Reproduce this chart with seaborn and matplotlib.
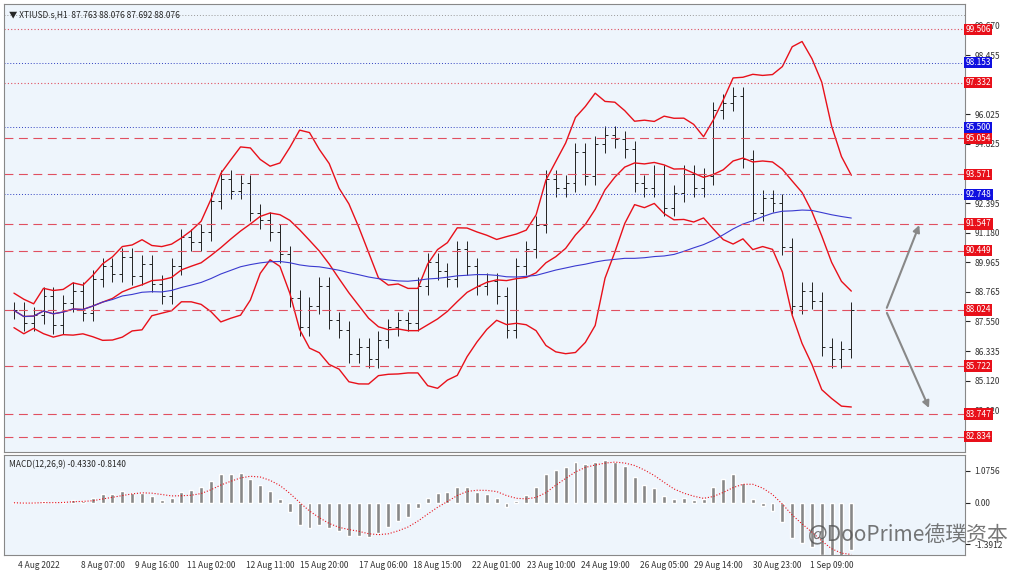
import matplotlib
matplotlib.use("Agg")
import matplotlib.pyplot as plt
import seaborn as sns
import numpy as np
import pandas as pd

sns.set_style("white")
plt.rcParams['font.family'] = ['Noto Sans CJK SC', 'DejaVu Sans']

closes = [88.0,87.5,87.8,88.6,87.4,88.3,88.8,87.9,89.3,89.8,89.5,90.2,89.4,89.9,89.1,88.6,89.8,91.0,90.8,91.2,
          92.5,93.4,92.9,93.2,92.0,91.7,91.2,90.3,88.5,87.3,88.2,89.0,87.6,87.2,86.2,86.5,86.0,86.8,87.3,87.6,
          87.5,89.0,90.0,89.6,89.3,90.5,89.8,89.0,89.2,88.6,87.2,89.8,90.5,91.5,93.4,93.0,93.2,94.5,93.5,94.8,
          95.2,95.0,94.6,93.2,93.0,93.6,92.2,92.8,93.6,93.0,93.5,96.2,96.5,96.8,94.2,92.0,92.6,92.4,90.6,88.2,
          88.8,88.4,86.5,86.0,86.4,88.0]
date_labels = ["4 Aug 2022","8 Aug 07:00","9 Aug 16:00","11 Aug 02:00","12 Aug 11:00","15 Aug 20:00",
               "17 Aug 06:00","18 Aug 15:00","22 Aug 01:00","23 Aug 10:00","24 Aug 19:00","26 Aug 05:00",
               "29 Aug 14:00","30 Aug 23:00","1 Sep 09:00"]
date_pos = [2.5,9,14.5,20,26,31.5,37.5,43,49,54.5,60,66,71.5,77.5,83]
red_levels = [99.506,97.332,95.054,93.571,91.547,90.449,88.024,85.722,83.747,82.834]
blue_levels = [98.153,95.500,92.748]
dotted_red = [99.506,97.332]
axis_ticks = [99.670,98.455,96.025,94.825,92.395,91.180,89.965,88.765,87.550,86.335,85.120,83.920]
macd_ticks = [1.0756,0.00,-1.3912]

bg = "#eef5fc"
s = pd.Series(closes)
ma = s.rolling(10, min_periods=1).mean()
sd = s.rolling(10, min_periods=2).std().bfill()
up, lo = ma + 2*sd, ma - 2*sd
slow = s.rolling(40, min_periods=1).mean()
ema12 = s.ewm(span=6).mean(); ema26 = s.ewm(span=13).mean()
macd = ema12 - ema26
sig = macd.rolling(5, min_periods=1).mean()

fig = plt.figure(figsize=(10.24, 5.73), dpi=100)
fig.patch.set_facecolor("white")
ax = fig.add_axes([0.004, 1-452/573, 0.938, 448/573])
ax2 = fig.add_axes([0.004, 18/573, 0.938, 100/573])
for a in (ax, ax2):
    a.set_facecolor(bg)
    for sp in a.spines.values():
        sp.set_color("#888888")
x = np.arange(len(closes))
opens = [closes[0]] + closes[:-1]
for i in x:
    o, c = opens[i], closes[i]
    h, l = max(o, c) + 0.35, min(o, c) - 0.35
    ax.vlines(i, l, h, color="#222222", lw=0.7)
    ax.hlines(o, i-0.3, i, color="#222222", lw=0.7)
    ax.hlines(c, i, i+0.3, color="#222222", lw=0.7)
sns.lineplot(x=x, y=up, ax=ax, color="#e8101a", lw=1)
sns.lineplot(x=x, y=lo, ax=ax, color="#e8101a", lw=1)
sns.lineplot(x=x, y=ma, ax=ax, color="#e8101a", lw=1)
sns.lineplot(x=x, y=slow, ax=ax, color="#3a3ad0", lw=0.8)
xmax = 96.5
for lv in red_levels:
    ls = (0, (1, 2)) if lv in dotted_red else (0, (8, 5))
    ax.axhline(lv, color="#e05060", lw=0.8, ls=ls)
    ax.text(xmax+0.1, lv, f"{lv:.3f}", color="white", fontsize=6, va="center", ha="left",
            bbox=dict(boxstyle="square,pad=0.15", fc="#e8101a", ec="none"), clip_on=False, zorder=5)
for lv in blue_levels:
    ax.axhline(lv, color="#3040c0", lw=0.7, ls=(0, (1, 2)))
    ax.text(xmax+0.1, lv, f"{lv:.3f}", color="white", fontsize=6, va="center", ha="left",
            bbox=dict(boxstyle="square,pad=0.15", fc="#1010e0", ec="none"), clip_on=False, zorder=5)
ax.axhline(100.1, color="#999999", lw=0.7, ls=(0, (1, 2)))
ax.annotate("", xy=(92, 91.6), xytext=(88.5, 88.0), arrowprops=dict(arrowstyle="-|>", color="#888888", lw=1.5))
ax.annotate("", xy=(93, 83.9), xytext=(88.5, 88.0), arrowprops=dict(arrowstyle="-|>", color="#888888", lw=1.5))
ax.set_xlim(-1, xmax); ax.set_ylim(82.2, 100.55)
ax.yaxis.tick_right()
ax.set_yticks(axis_ticks)
ax.set_yticklabels([f"{t:.3f}" for t in axis_ticks], fontsize=6, color="#333333")
ax.set_xticks([])
ax.set_xlabel(""); ax.set_ylabel("")
ax.text(0.005, 0.985, "▼ XTIUSD.s,H1  87.763 88.076 87.692 88.076", transform=ax.transAxes, fontsize=6, va="top")

ax2.bar(x, macd, width=0.4, color="#888888")
sns.lineplot(x=x, y=sig, ax=ax2, color="#e8101a", lw=0.8, ls=":")
ax2.set_xlim(-1, xmax); ax2.set_ylim(-1.75, 1.6)
ax2.yaxis.tick_right()
ax2.set_yticks(macd_ticks)
ax2.set_yticklabels(["1.0756", "0.00", "-1.3912"], fontsize=6, color="#333333")
ax2.set_xticks(date_pos)
ax2.set_xticklabels(date_labels, fontsize=6, color="#333333")
ax2.tick_params(axis="x", length=2, pad=2)
ax2.set_xlabel(""); ax2.set_ylabel("")
ax2.text(0.005, 0.95, "MACD(12,26,9) -0.4330 -0.8140", transform=ax2.transAxes, fontsize=6, va="top")
fig.text(0.985, 0.065, "@DooPrime德璞资本", fontsize=15, color="#555555", ha="right", va="center", alpha=0.8)
fig.savefig("out.png", dpi=100, facecolor="white")
